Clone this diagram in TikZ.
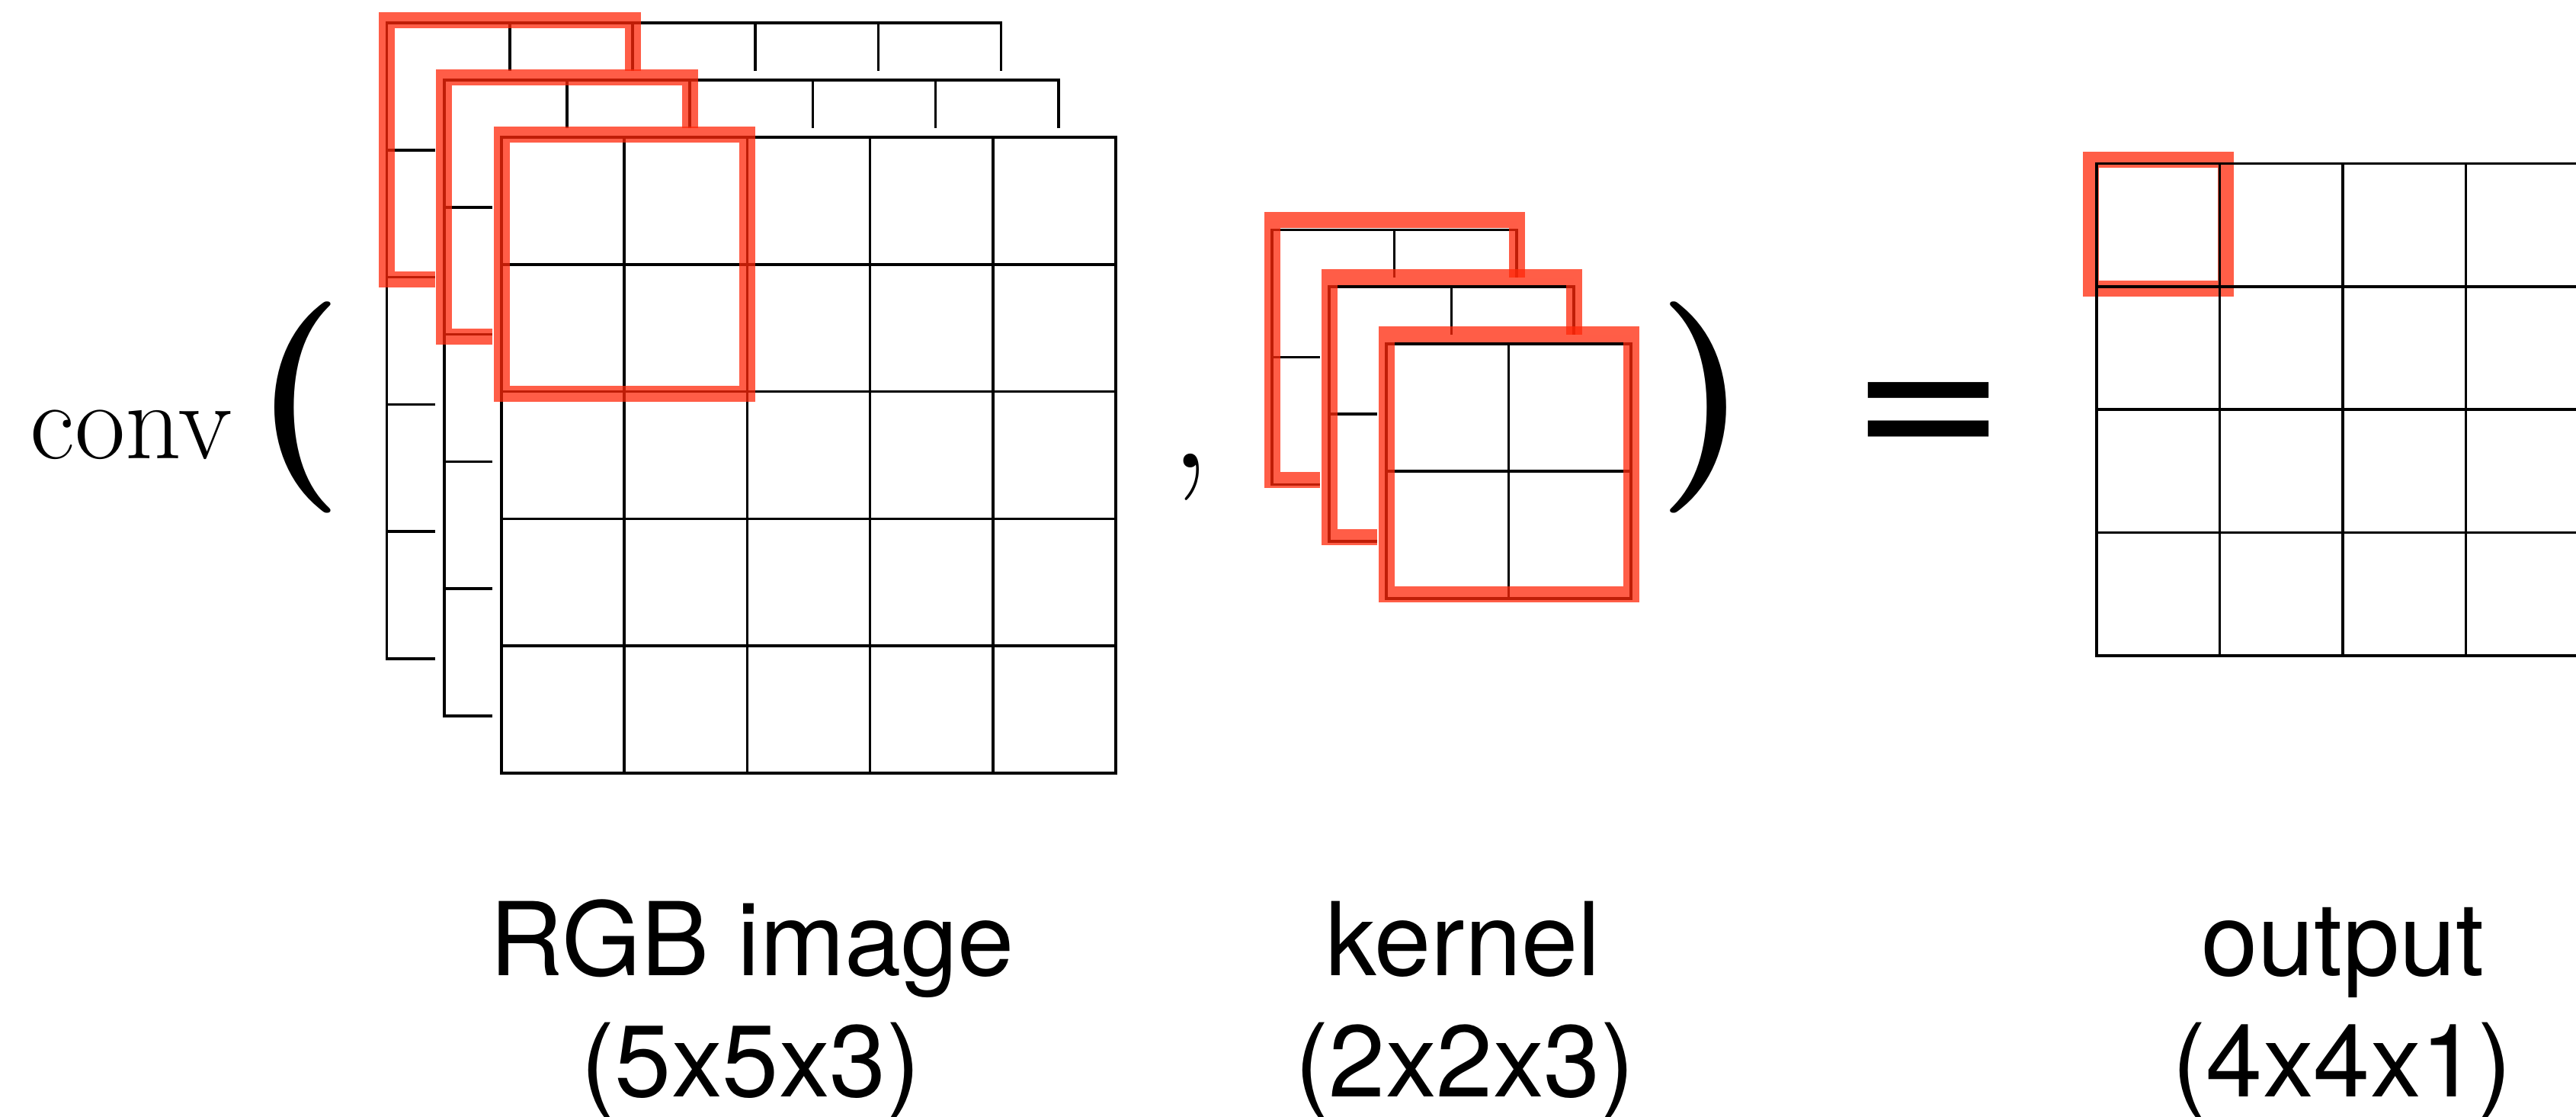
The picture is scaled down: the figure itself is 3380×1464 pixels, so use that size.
\documentclass[tikz,border=0pt]{standalone}
\usepackage{fontspec}
\newfontfamily\labelfont{TeX Gyre Heros}
\newfontfamily\eqfont{DejaVu Sans}
\definecolor{boxred}{RGB}{255,40,10}

\begin{document}
\begin{tikzpicture}[x=0.1mm, y=-0.1mm,
        cell/.style = {line width=0.36mm, black, line cap=rect},
        redbox/.style = {draw=boxred, line width=2.1mm, opacity=0.75},
        cover/.style = {fill=white},
        caption/.style = {font=\labelfont\fontsize{38}{45}\selectfont, inner sep=0pt, anchor=base},
        bigparen/.style = {font=\bfseries\fontsize{78.8}{80}\selectfont, inner sep=0pt}
    ]
    \useasboundingbox (0,0) rectangle (3380,1464);
    \clip (0,0) rectangle (3380,1464);

    % RGB image: three 5x5 layers, back to front
    \foreach \l in {0,1,2} {
        \pgfmathsetmacro\xo{507.6+75.2*\l}
        \pgfmathsetmacro\yo{30+75*\l}
        \begin{scope}[shift={(\xo,\yo)}]
            \fill[cover] (-12,-12) rectangle (806,834);
            \foreach \i in {0,...,5} {
                \draw[cell] (\i*161.2,0) -- (\i*161.2,834);
                \draw[cell] (0,\i*166.8) -- (806,\i*166.8);
            }
            \draw[redbox] (0,-4) rectangle (322.4,336.6);
        \end{scope}
    }

    % kernel: three 2x2 layers
    \foreach \l in {0,1,2} {
        \pgfmathsetmacro\xo{1669+75*\l}
        \pgfmathsetmacro\yo{301.5+74.75*\l}
        \begin{scope}[shift={(\xo,\yo)}]
            \fill[cover] (-12,-12) rectangle (321,334);
            \foreach \i in {0,1,2} {
                \draw[cell] (\i*160.5,0) -- (\i*160.5,334);
                \draw[cell] (0,\i*167) -- (321,\i*167);
            }
            \draw[redbox] (0,-13) rectangle (321,328);
        \end{scope}
    }

    % output: 4x4
    \draw[redbox] (2743.5,209.5) rectangle (2920,378);
    \begin{scope}[shift={(2751,214.3)}]
        \foreach \i in {0,...,4} {
            \draw[cell] (\i*161.5,0) -- (\i*161.5,645.6);
            \draw[cell] (0,\i*161.4) -- (646,\i*161.4);
        }
    \end{scope}

    % formula
    \node[font=\fontsize{41}{43}\selectfont, inner sep=0pt, anchor=base west] (conv) at (39,601.7) {conv};
    \node[bigparen] (lparen) at (391,534) {(};
    \node[font=\fontsize{63}{64}\selectfont, inner sep=0pt, anchor=base] (comma) at (1562,613) {,};
    \node[bigparen] (rparen) at (2235,534) {)};
    \node[font=\eqfont\fontsize{72}{72}\selectfont, inner sep=0pt] (equals) at (2530.5,559) {=};

    % captions
    \node[caption] (imgname) at (987,1279) {RGB image};
    \node[caption] (imgsize) at (985,1438) {(5x5x3)};
    \node[caption] (kername) at (1920,1279) {kernel};
    \node[caption] (kersize) at (1922,1438) {(2x2x3)};
    \node[caption] (outname) at (3074,1279) {output};
    \node[caption] (outsize) at (3073,1438) {(4x4x1)};
\end{tikzpicture}
\end{document}
